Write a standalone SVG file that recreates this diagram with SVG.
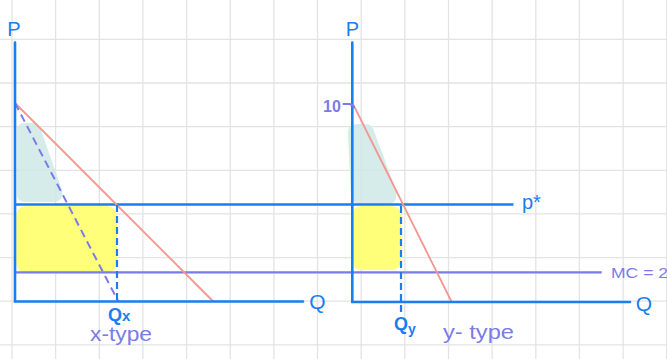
<svg xmlns="http://www.w3.org/2000/svg" width="667" height="359" viewBox="0 0 667 359">
  <style>
    .grid line { stroke: #e3e3e3; stroke-width: 1.3; }
    .axis { stroke: #1a7ef0; stroke-width: 2.6; fill: none; stroke-linecap: round; }
    .pstar { stroke: #1a7ef0; stroke-width: 2.4; fill: none; }
    .mc { stroke: #7b7be8; stroke-width: 2.2; fill: none; }
    .demand { stroke: #f5968f; stroke-width: 1.8; fill: none; }
    .dashp { stroke: #7b7be8; stroke-width: 2; fill: none; stroke-dasharray: 8 5; }
    .dashb { stroke: #1a7ef0; stroke-width: 2.2; fill: none; stroke-dasharray: 7 4; }
    .teal { fill: #cfe9e6; opacity: 0.85; }
    .yellow { fill: #ffff7a; }
    .lb { fill: #1a7ef0; font-family: "Liberation Sans", Arial, sans-serif; }
    .lp { fill: #7b7be8; font-family: "Liberation Sans", Arial, sans-serif; }
  </style>
  <rect x="0" y="0" width="667" height="359" fill="#ffffff"/>
  <g class="grid" id="grid">
    <line x1="12" y1="0" x2="12" y2="359"/>
    <line x1="55.6" y1="0" x2="55.6" y2="359"/>
    <line x1="99.3" y1="0" x2="99.3" y2="359"/>
    <line x1="142.9" y1="0" x2="142.9" y2="359"/>
    <line x1="186.6" y1="0" x2="186.6" y2="359"/>
    <line x1="230.2" y1="0" x2="230.2" y2="359"/>
    <line x1="273.9" y1="0" x2="273.9" y2="359"/>
    <line x1="317.5" y1="0" x2="317.5" y2="359"/>
    <line x1="361.2" y1="0" x2="361.2" y2="359"/>
    <line x1="404.8" y1="0" x2="404.8" y2="359"/>
    <line x1="448.5" y1="0" x2="448.5" y2="359"/>
    <line x1="492.1" y1="0" x2="492.1" y2="359"/>
    <line x1="535.8" y1="0" x2="535.8" y2="359"/>
    <line x1="579.4" y1="0" x2="579.4" y2="359"/>
    <line x1="623.1" y1="0" x2="623.1" y2="359"/>
    <line x1="666.7" y1="0" x2="666.7" y2="359"/>
    <line x1="0" y1="39.3" x2="667" y2="39.3"/>
    <line x1="0" y1="83" x2="667" y2="83"/>
    <line x1="0" y1="126.6" x2="667" y2="126.6"/>
    <line x1="0" y1="170.3" x2="667" y2="170.3"/>
    <line x1="0" y1="213.9" x2="667" y2="213.9"/>
    <line x1="0" y1="257.6" x2="667" y2="257.6"/>
    <line x1="0" y1="301.2" x2="667" y2="301.2"/>
    <line x1="0" y1="344.9" x2="667" y2="344.9"/>
  </g>
  <g id="shading">
    <path class="teal" d="M17,130 Q17,123 25,123 L33,123 Q39,123 41,130 L62,190 Q64,202 53,202 L25,202 Q17,202 17,194 Z"/>
    <rect class="yellow" x="16" y="206" width="101" height="67" rx="10"/>
    <path class="teal" d="M348,135 Q347,124 358,124 L366,124 Q372,124 374,131 L396,190 Q398,204 388,204 L360,204 Q352,204 351,196 Z"/>
    <rect class="yellow" x="352" y="206" width="49" height="64" rx="9"/>
  </g>
  <g id="connectors">
    <line class="mc" x1="15" y1="272.3" x2="601.7" y2="272.3"/>
    <line class="pstar" x1="15" y1="204.5" x2="513.5" y2="204.5"/>
    <line class="demand" x1="15" y1="103" x2="213.3" y2="301.5"/>
    <line class="dashp" x1="15" y1="103" x2="118.3" y2="301.5"/>
    <line class="dashb" x1="117" y1="205" x2="117" y2="302"/>
    <line class="demand" x1="353.5" y1="105" x2="451.7" y2="302"/>
    <line class="dashb" x1="401" y1="206" x2="401" y2="312"/>
    <path class="axis" d="M15,42.5 L15,301.5 L303,301.5"/>
    <path class="axis" d="M352.3,42.5 L352.3,302 L630,302"/>
    <path d="M343.5,104 L349,104 Q352,104 354,107" stroke="#7b7be8" stroke-width="2.2" fill="none" stroke-linecap="round"/>
  </g>
  <g id="labels">
    <text class="lb" x="14" y="36" font-size="20" text-anchor="middle">P</text>
    <text class="lb" x="352.5" y="36" font-size="20" text-anchor="middle">P</text>
    <text class="lb" x="317.5" y="309" font-size="21" text-anchor="middle">Q</text>
    <text class="lb" x="644" y="311" font-size="21" text-anchor="middle">Q</text>
    <text class="lb" x="108" y="320.5" font-size="18" font-weight="bold">Q<tspan font-size="15">x</tspan></text>
    <text class="lb" x="394" y="330" font-size="18" font-weight="bold">Q<tspan font-size="14" dy="4">y</tspan></text>
    <text class="lb" x="522" y="209" font-size="20">p*</text>
    <text class="lp" x="90" y="341" font-size="20" textLength="62" lengthAdjust="spacingAndGlyphs">x-type</text>
    <text class="lp" x="443" y="339" font-size="20" textLength="71" lengthAdjust="spacingAndGlyphs">y- type</text>
    <text class="lp" x="611" y="277.5" font-size="15" textLength="57" lengthAdjust="spacingAndGlyphs">MC = 2</text>
    <text class="lp" x="323" y="111.5" font-size="16" font-weight="bold">10</text>
  </g>
</svg>
